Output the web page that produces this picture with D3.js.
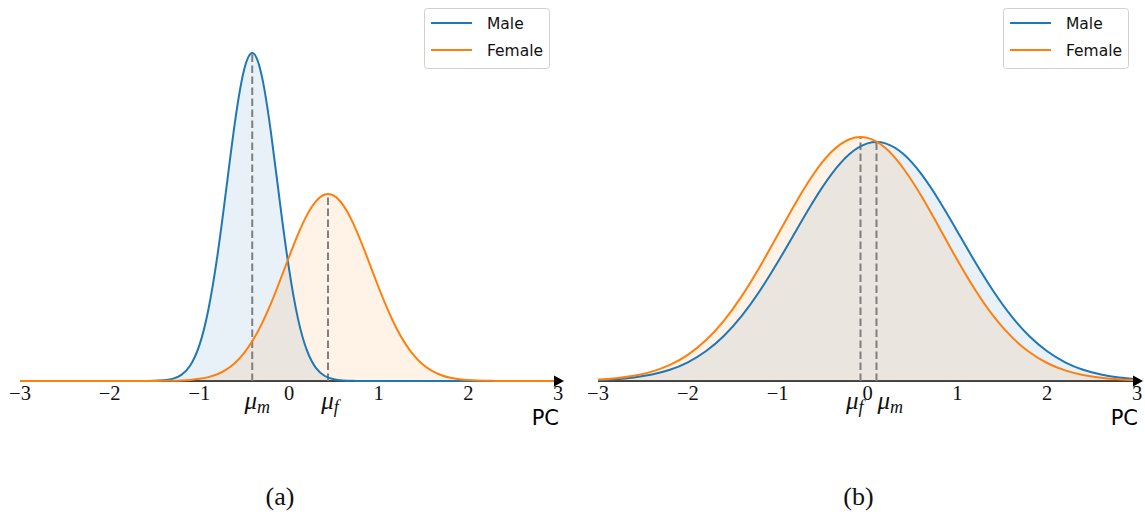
<!DOCTYPE html>
<html>
<head>
<meta charset="utf-8">
<script src="https://cdn.jsdelivr.net/npm/d3@7"></script>
<style>
  body { margin: 0; background: #fff; }
  svg { display: block; }
</style>
</head>
<body>
<svg id="chart" width="1145" height="515"></svg>
<script>
// ---------- data (heights in arbitrary density units) ----------
const xTicks = [-3, -2, -1, 0, 1, 2, 3];
const seriesNames = ["Male", "Female"];
const panelLabels = ["(a)", "(b)"];

// panel (a): sampled every 0.1 from -3 to 3
const xA = d3.range(61).map(i => +(-3 + i * 0.1).toFixed(1));
const maleA = [
  0, 0, 0, 0, 0, 0, 0, 0, 0, 0, 0, 0, 0, 0,
  0.04, 0.17, 0.63, 2.1, 6.1, 15.8, 35.6, 71.0, 124.3, 191.8, 260.6, 311.5, 327.8,
  303.6, 247.6, 177.7, 112.3, 62.4, 30.6, 13.2, 5.0, 1.7, 0.49, 0.13, 0.03,
  0, 0, 0, 0, 0, 0, 0, 0, 0, 0, 0, 0, 0, 0, 0, 0, 0, 0, 0, 0, 0, 0
];
const femaleA = [
  0, 0, 0, 0, 0, 0, 0, 0, 0, 0, 0, 0, 0, 0, 0,
  0.06, 0.13, 0.27, 0.56, 1.12, 2.14, 3.9, 6.8, 11.4, 18.3, 28.1, 41.2, 57.9, 77.9, 100.5,
  124.0, 146.6, 165.9, 179.7, 186.5, 185.3, 176.3, 160.6, 140.0, 117.0, 93.5, 71.6, 52.5,
  36.9, 24.8, 15.9, 9.8, 5.8, 3.3, 1.8, 0.92, 0.46, 0.22, 0.1, 0.04,
  0, 0, 0, 0, 0, 0
];
const meansA = [-0.41, 0.435];     // mu_m, mu_f
const peaksA = [328, 187];

// panel (b): sampled every 0.2 from -3 to 3
const xB = d3.range(31).map(i => +(-3 + i * 0.2).toFixed(1));
const maleB = [
  0.92, 1.85, 3.53, 6.45, 11.2, 18.7, 29.7, 45.0, 65.1, 90.0, 118.7, 149.6, 180.0, 206.8,
  226.9, 237.6, 237.6, 226.9, 206.8, 180.0, 149.6, 118.7, 90.0, 65.1, 45.0, 29.7, 18.7,
  11.2, 6.45, 3.53, 1.85
];
const femaleB = [
  1.41, 2.78, 5.24, 9.41, 16.1, 26.2, 40.7, 60.2, 84.9, 114.1, 146.0, 178.1, 207.0, 229.2,
  241.8, 243.1, 232.9, 212.5, 184.9, 153.2, 121.0, 91.0, 65.2, 44.6, 29.0, 18.0, 10.6,
  5.99, 3.21, 1.64, 0.80
];
const meansB = [0.1, -0.078];      // mu_m, mu_f
const peaksB = [239, 244];

// ---------- drawing ----------
const colors = ["#1f77b4", "#ff7f0e"];
const svg = d3.select("#chart");

const y = d3.scaleLinear().domain([0, 330]).range([381, 51]);

const panels = [
  { xs: xA, series: [maleA, femaleA], means: meansA, peaks: peaksA, range: [20, 558],
    label: panelLabels[0], legendX: 424,
    mu: [ { sub: "m", anchor: "middle", dx: 5 }, { sub: "f", anchor: "middle", dx: 2 } ] },
  { xs: xB, series: [maleB, femaleB], means: meansB, peaks: peaksB, range: [598, 1137],
    label: panelLabels[1], legendX: 1003,
    mu: [ { sub: "m", anchor: "start", dx: 1 }, { sub: "f", anchor: "end", dx: 3 } ] }
];

panels.forEach(p => {
  const x = d3.scaleLinear().domain([-3, 3]).range(p.range);
  const g = svg.append("g");

  // axis line with arrow
  g.append("line")
    .attr("x1", x(-3)).attr("x2", x(3) + 2)
    .attr("y1", y(0)).attr("y2", y(0))
    .attr("stroke", "#000").attr("stroke-width", 1.5);

  // fills
  p.series.forEach((vals, i) => {
    const data = p.xs.map((xv, j) => [xv, vals[j]]);
    g.append("path")
      .datum(data)
      .attr("d", d3.area().x(d => x(d[0])).y0(y(0)).y1(d => y(d[1])).curve(d3.curveNatural))
      .attr("fill", colors[i]).attr("fill-opacity", 0.1);
  });

  // dashed mean lines
  p.means.forEach((m, i) => {
    g.append("line")
      .attr("x1", x(m)).attr("x2", x(m))
      .attr("y1", y(0)).attr("y2", y(p.peaks[i]))
      .attr("stroke", "#7f7f7f").attr("stroke-width", 2)
      .attr("stroke-dasharray", "7.5,3.5");
  });

  // curves
  p.series.forEach((vals, i) => {
    const data = p.xs.map((xv, j) => [xv, vals[j]]);
    g.append("path")
      .datum(data)
      .attr("d", d3.line().x(d => x(d[0])).y(d => y(d[1])).curve(d3.curveNatural))
      .attr("fill", "none").attr("stroke", colors[i]).attr("stroke-width", 2);
  });

  // arrow head
  const tip = x(3) + 6;
  g.append("path")
    .attr("d", `M${tip},${y(0)} L${tip - 10},${y(0) - 5.5} L${tip - 10},${y(0) + 5.5} Z`)
    .attr("fill", "#000");

  // tick labels
  g.selectAll("text.tick")
    .data(xTicks)
    .enter().append("text")
    .attr("class", "tick")
    .attr("x", d => x(d))
    .attr("y", 400)
    .attr("text-anchor", "middle")
    .attr("font-family", "'Liberation Serif', serif")
    .attr("font-size", 20.5)
    .attr("fill", "#111")
    .text(d => d < 0 ? "\u2212" + Math.abs(d) : String(d));

  // mu labels
  p.means.forEach((m, i) => {
    const t = g.append("text")
      .attr("x", x(m) + p.mu[i].dx)
      .attr("y", 409)
      .attr("text-anchor", p.mu[i].anchor)
      .attr("font-family", "'Liberation Serif', serif")
      .attr("font-style", "italic")
      .attr("font-size", 25)
      .attr("fill", "#111");
    t.append("tspan").text("\u03bc");
    t.append("tspan").attr("font-size", 18).attr("dy", 4).text(p.mu[i].sub);
  });

  // PC label
  g.append("text")
    .attr("x", x(3) + 1).attr("y", 425)
    .attr("text-anchor", "end")
    .attr("font-family", "'DejaVu Sans', sans-serif")
    .attr("font-size", 21)
    .attr("fill", "#000")
    .text("PC");

  // legend
  const lg = g.append("g").attr("transform", `translate(${p.legendX},8)`);
  lg.append("rect")
    .attr("x", 0.5).attr("y", 0.5).attr("width", 125).attr("height", 60)
    .attr("rx", 3).attr("ry", 3)
    .attr("fill", "#fff").attr("fill-opacity", 0.8)
    .attr("stroke", "#d0d0d0").attr("stroke-width", 1);
  seriesNames.forEach((name, i) => {
    const ly = 15 + i * 27;
    lg.append("line")
      .attr("x1", 7).attr("x2", 48).attr("y1", ly).attr("y2", ly)
      .attr("stroke", colors[i]).attr("stroke-width", 2);
    lg.append("text")
      .attr("x", 63).attr("y", ly + 6)
      .attr("font-family", "'DejaVu Sans', sans-serif")
      .attr("font-size", 15.5)
      .attr("fill", "#111")
      .text(name);
  });

  // panel label
  svg.append("text")
    .attr("x", (p.range[0] + p.range[1]) / 2 - 9)
    .attr("y", 505)
    .attr("text-anchor", "middle")
    .attr("font-family", "'Liberation Serif', serif")
    .attr("font-size", 26)
    .attr("fill", "#111")
    .text(p.label);
});
</script>
</body>
</html>
